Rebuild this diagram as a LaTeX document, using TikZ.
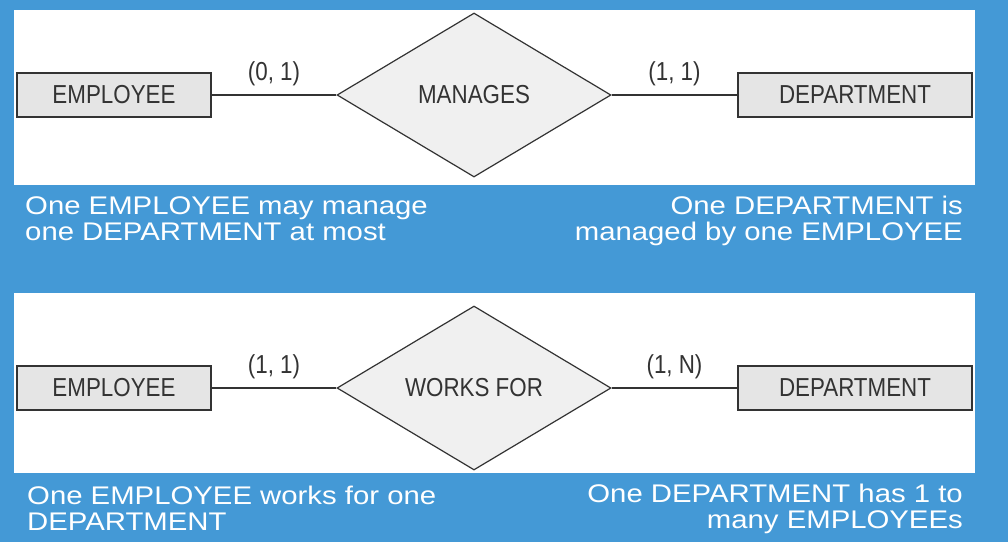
\documentclass[tikz,border=0pt]{standalone}
\usepackage{fontspec}
\setmainfont{Liberation Sans}
\newfontfamily\erfont[FakeStretch=0.86]{Liberation Sans}
\newfontfamily\notefont[FakeStretch=1.15]{Liberation Sans}
\usetikzlibrary{positioning,shapes.geometric}
\definecolor{slide}{HTML}{4499D6}
\definecolor{ink}{HTML}{333333}

\begin{document}
\begin{tikzpicture}[x=1pt, y=-1pt,
          every node/.style={font=\erfont\fontsize{26}{26}\selectfont, text=ink},
          entity/.style={draw=ink, fill=black!10, line width=1.2pt,
                         minimum height=44pt, inner sep=0pt},
          relship/.style={diamond, draw=ink, fill=black!6, line width=1.2pt,
                          minimum width=274pt, minimum height=164pt, inner sep=0pt},
          link/.style={draw=ink, line width=1.2pt},
          card/.style={midway, above=9pt, inner sep=0pt},
          note/.style={font=\notefont\fontsize{25.5}{26}\selectfont,
                       text=white, inner sep=0pt}
      ]
        % slide and panels
        \fill[slide] (0,0) rectangle (1008,542);
        \fill[white] (14,10) rectangle (975,185);
        \fill[white] (14,293) rectangle (975,473);

        % MANAGES
        \node[entity, minimum width=194pt] (emp1) at (114,95) {EMPLOYEE};
        \node[relship] (manages) at (474,95) {MANAGES};
        \node[entity, minimum width=234pt] (dept1) at (855,95) {DEPARTMENT};

        \draw[link] (emp1.east) -- node[card] (c01) {(0, 1)} (manages.west);
        \draw[link] (manages.east) -- node[card] (c11) {(1, 1)} (dept1.west);

        \node[note, anchor=base west, align=left] (noteEmp1) at (25,240)
              {One EMPLOYEE may manage\\one DEPARTMENT at most};
        \node[note, anchor=base east, align=right] (noteDept1) at (963,240)
              {One DEPARTMENT is\\managed by one EMPLOYEE};

        % WORKS FOR
        \node[entity, minimum width=194pt] (emp2) at (114,388) {EMPLOYEE};
        \node[relship] (worksfor) at (474,388) {WORKS FOR};
        \node[entity, minimum width=234pt] (dept2) at (855,388) {DEPARTMENT};

        \draw[link] (emp2.east) -- node[card] (c11b) {(1, 1)} (worksfor.west);
        \draw[link] (worksfor.east) -- node[card] (c1n) {(1, N)} (dept2.west);

        \node[note, anchor=base west, align=left] (noteEmp2) at (27,530)
              {One EMPLOYEE works for one\\DEPARTMENT};
        \node[note, anchor=base east, align=right] (noteDept2) at (963,528)
              {One DEPARTMENT has 1 to\\many EMPLOYEEs};
      \end{tikzpicture}
\end{document}
